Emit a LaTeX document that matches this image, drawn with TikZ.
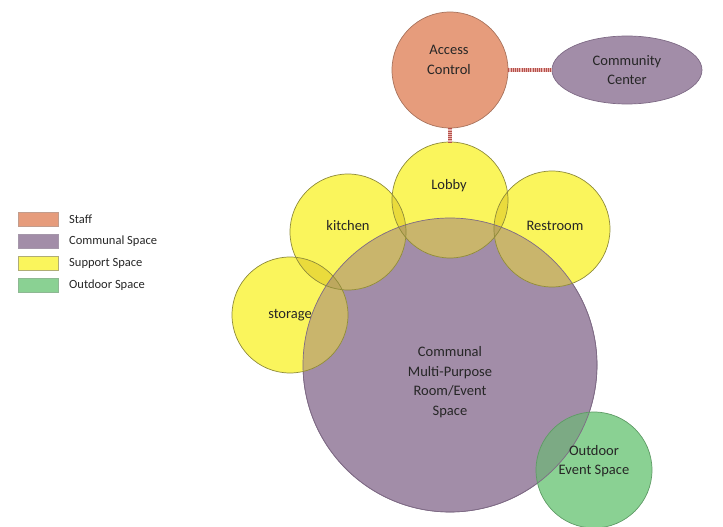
\documentclass[tikz,border=0pt]{standalone}
\usepackage{fontspec}
\setmainfont{Carlito}
\usetikzlibrary{shapes.geometric}
\definecolor{staffF}{HTML}{E69C7C}
\definecolor{staffD}{HTML}{A8735C}
\definecolor{purpF}{HTML}{A28DA8}
\definecolor{purpD}{HTML}{7E6A85}
\definecolor{yelF}{HTML}{FAF55C}
\definecolor{yelD}{HTML}{8E8A3A}
\definecolor{yelYel}{HTML}{EADB3C}
\definecolor{tanF}{HTML}{C9B56C}
\definecolor{tanD}{HTML}{BDA85E}
\definecolor{grnF}{HTML}{8AD193}
\definecolor{grnD}{HTML}{5E9A65}
\definecolor{grnP}{HTML}{7CAA84}
\definecolor{linkred}{HTML}{B5504A}
\definecolor{linkpink}{HTML}{E8B4B0}
\begin{document}
\begin{tikzpicture}[x=1pt,y=-1pt,
  room/.style={circle, inner sep=0pt, minimum size=116pt, line width=0.7pt},
  lbl/.style={font=\fontsize{14.5}{19.5}\selectfont, align=center, text=black!85, inner sep=0pt},
  legbox/.style={rectangle, minimum width=40pt, minimum height=14pt, inner sep=0pt, line width=0.6pt},
  legtxt/.style={font=\fontsize{12.5}{15}\selectfont, anchor=west, text=black!85, inner sep=0pt},
  link/.style={line width=4pt, draw=linkred, dash pattern=on 1.1pt off 1.1pt, preaction={draw=linkpink, solid, line width=4pt}}]
\useasboundingbox (0,0) rectangle (723,527);

% centres
\coordinate (cP) at (450,365);
\coordinate (cG) at (594,470);
\coordinate (cL) at (450,200);
\coordinate (cK) at (348,232);
\coordinate (cR) at (552,229);
\coordinate (cS) at (290,315);

% ---- fills ----
\fill[purpF] (cP) circle[radius=147];
\draw[purpD, line width=0.6pt] (cP) circle[radius=147];
\fill[grnF] (cG) circle[radius=58];
\begin{scope}
  \clip (cP) circle[radius=147];
  \fill[grnP] (cG) circle[radius=58];
\end{scope}
\foreach \c in {cL,cK,cR,cS}{\fill[yelF] (\c) circle[radius=58];}
\begin{scope}
  \clip (cP) circle[radius=147];
  \foreach \c in {cL,cK,cR,cS}{\fill[tanF] (\c) circle[radius=58];}
\end{scope}
\foreach \a/\b in {cS/cK,cK/cL,cL/cR}{
  \begin{scope}
    \clip (\a) circle[radius=58];
    \fill[yelYel] (\b) circle[radius=58];
  \end{scope}
  \begin{scope}
    \clip (\a) circle[radius=58];
    \clip (cP) circle[radius=147];
    \fill[tanD] (\b) circle[radius=58];
  \end{scope}
}

% ---- named shapes (outlines) ----
\node[room, draw=purpD, minimum size=294pt] (hall) at (cP) {};
\node[room, draw=grnD] (outdoor) at (cG) {};
\node[room, draw=yelD] (lobby) at (cL) {};
\node[room, draw=yelD] (kitchen) at (cK) {};
\node[room, draw=yelD] (restroom) at (cR) {};
\node[room, draw=yelD] (storage) at (cS) {};
\node[room, draw=staffD, fill=staffF] (access) at (450,70) {};
\node[ellipse, inner sep=0pt, minimum width=150pt, minimum height=68pt, draw=purpD, fill=purpF, line width=0.7pt] (community) at (627,70) {};

% ---- connectors ----
\draw[link] (access) -- (community);
\draw[link] (access) -- (lobby);

% ---- labels ----
\node[lbl] (accessT) at (449,60) {Access\\Control};
\node[lbl] (communityT) at (627,70) {Community\\Center};
\node[lbl] (lobbyT) at (449,186) {Lobby};
\node[lbl] (kitchenT) at (348,226) {kitchen};
\node[lbl] (restroomT) at (555,226) {Restroom};
\node[lbl] (storageT) at (290,315) {storage};
\node[lbl] (hallT) at (450,382) {Communal\\Multi-Purpose\\Room/Event\\Space};
\node[lbl] (outdoorT) at (594,461) {Outdoor\\Event Space};

% ---- legend ----
\node[legbox, fill=staffF, draw=staffD!70] (lg1) at (38,219) {};
\node[legbox, fill=purpF, draw=purpD!70] (lg2) at (38,241) {};
\node[legbox, fill=yelF, draw=yelD!70] (lg3) at (38,263) {};
\node[legbox, fill=grnF, draw=grnD!70] (lg4) at (38,285) {};
\node[legtxt] (lt1) at (69,219) {Staff};
\node[legtxt] (lt2) at (69,241) {Communal Space};
\node[legtxt] (lt3) at (69,263) {Support Space};
\node[legtxt] (lt4) at (69,285) {Outdoor Space};
\end{tikzpicture}
\end{document}
